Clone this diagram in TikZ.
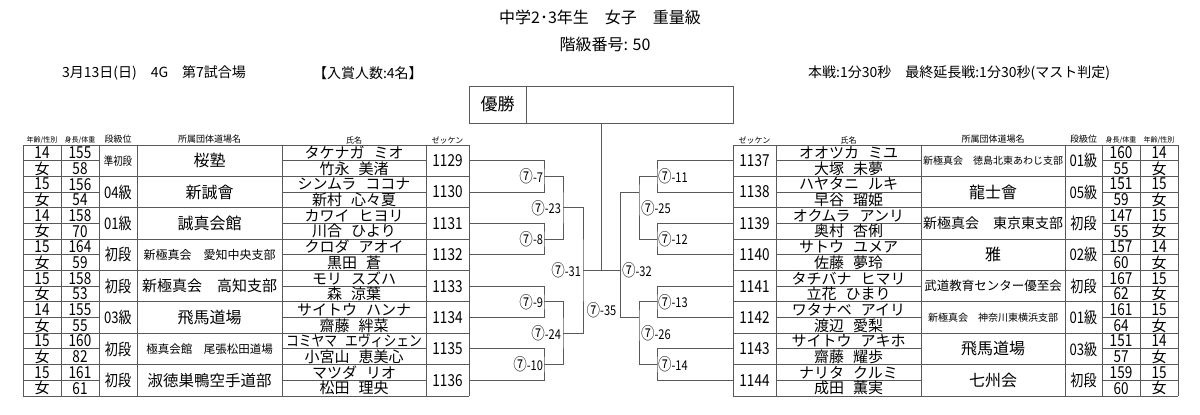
\documentclass[tikz,border=0pt]{standalone}
\usepackage{fontspec}
\usepackage{graphicx}
\setmainfont{Noto Sans CJK JP}
\newfontfamily\narrowf[FakeStretch=0.82]{Noto Sans CJK JP}
\newsavebox\fitbox
\newcommand\fitw[2]{\sbox\fitbox{#2}\ifdim\wd\fitbox>#1\relax\resizebox{#1}{\height}{\usebox\fitbox}\else\usebox\fitbox\fi}
\newcommand\fs[1]{\fontsize{#1}{#1}\selectfont}
\newcommand\nmgap{\hspace{0.6em}}
\newcommand\cseven{{\fontsize{16.5}{16.5}\selectfont\raisebox{-0.5pt}{⑦}}}
\tikzset{
  ln/.style={draw=black!65, line width=0.9pt},
  txt/.style={inner sep=0pt, outer sep=0pt},
  big/.style={txt, font=\fs{15}},
  dig/.style={txt, font=\narrowf\fs{16.5}},
  hdr/.style={txt, font=\fs{8}},
  mlab/.style={txt, font=\narrowf\fs{13.5}},
}
\begin{document}
\begin{tikzpicture}[x=1pt,y=-1pt]
\useasboundingbox (0,0) rectangle (1200,415);
\fill[white] (0,0) rectangle (1200,415);

% titles
\node[txt, font=\fs{16}] (title) at (600,17) {中学2･3年生　女子　重量級};
\node[txt, font=\fs{16}] (cls) at (605,44) {階級番号: 50};
\node[txt, font=\fs{14}, anchor=west] (date) at (62,73) {3月13日(日)　4G　第7試合場};
\node[txt, font=\fs{14}, anchor=west] (prize) at (313,73) {【入賞人数:4名】};
\node[txt, font=\fs{14}, anchor=east] (time) at (1110,73) {本戦:1分30秒　最終延長戦:1分30秒(マスト判定)};

% champion box
\node[ln, minimum width=264pt, minimum height=37pt, inner sep=0pt] (champ) at (601,104.5) {};
\draw[ln] (526,86) -- (526,123);
\node[txt, font=\fs{17}] (yusho) at (497.5,104.5) {優勝};

% headers
\node[txt, font=\fs{7}] (hL1) at (42,140) {年齢/性別};
\node[txt, font=\fs{7}] (hL2) at (80,140) {身長/体重};
\node[hdr, font=\fs{9}] (hL3) at (118,139.5) {段級位};
\node[hdr, font=\fs{9}] (hL4) at (209.5,139.5) {所属団体道場名};
\node[hdr] (hL5) at (354,140) {氏名};
\node[hdr] (hL6) at (447.5,140) {ゼッケン};
\node[hdr] (hR6) at (754.5,140) {ゼッケン};
\node[hdr] (hR5) at (848.5,140) {氏名};
\node[hdr, font=\fs{9}] (hR4) at (993,139.5) {所属団体道場名};
\node[hdr, font=\fs{9}] (hR3) at (1083.5,139.5) {段級位};
\node[txt, font=\fs{7}] (hR2) at (1121,140) {身長/体重};
\node[txt, font=\fs{7}] (hR1) at (1159,140) {年齢/性別};

% table grids
\foreach \x in {23,61,99,137,282,426,469,733,776,921,1065,1102,1140,1178}
  \draw[ln] (\x,145) -- (\x,396);
\foreach \k in {0,...,8}{
  \pgfmathsetmacro\yy{145+31.375*\k}
  \draw[ln] (23,\yy) -- (469,\yy);
  \draw[ln] (733,\yy) -- (1178,\yy);
}
\foreach \k in {0,...,7}{
  \pgfmathsetmacro\yy{145+31.375*\k+15.69}
  \draw[ln] (23,\yy) -- (99,\yy);
  \draw[ln] (282,\yy) -- (426,\yy);
  \draw[ln] (776,\yy) -- (921,\yy);
  \draw[ln] (1102,\yy) -- (1178,\yy);
}

% left players
\foreach \i/\ag/\hh/\ww/\rk/\rs/\ds/\dojo/\kana/\kanji/\num in {
 1/14/155/58/準初段/11.5/16/桜塾/タケナガ\nmgap ミオ/竹永\nmgap 美渚/1129,
 2/15/156/54/04級/16/16/新誠會/シンムラ\nmgap ココナ/新村\nmgap 心々夏/1130,
 3/14/158/70/01級/16/16/誠真会館/カワイ\nmgap ヒヨリ/川合\nmgap ひより/1131,
 4/15/164/59/初段/16/12/新極真会　愛知中央支部/クロダ\nmgap アオイ/黒田\nmgap 蒼/1132,
 5/15/158/53/初段/16/15/新極真会　高知支部/モリ\nmgap スズハ/森\nmgap 涼葉/1133,
 6/14/155/55/03級/16/16/飛馬道場/サイトウ\nmgap ハンナ/齋藤\nmgap 絆菜/1134,
 7/15/160/82/初段/16/11.5/極真会館　尾張松田道場/コミヤマ\nmgap エヴィシェン/小宮山\nmgap 恵美心/1135,
 8/15/161/61/初段/16/15.5/淑徳巣鴨空手道部/マツダ\nmgap リオ/松田\nmgap 理央/1136}{
  \pgfmathsetmacro\yup{145+31.375*(\i-1)+7.84}
  \pgfmathsetmacro\ymd{145+31.375*(\i-1)+15.69}
  \pgfmathsetmacro\ylo{145+31.375*(\i-1)+23.53}
  \node[dig] (LA\i) at (42,\yup) {\ag};
  \node[big] (LS\i) at (42,\ylo) {女};
  \node[dig] (LH\i) at (80,\yup) {\hh};
  \node[dig] (LW\i) at (80,\ylo) {\ww};
  \node[txt, font={\narrowf\fs{\rs}}] (LR\i) at (118,\ymd) {\rk};
  \node[txt, font={\fs{\ds}}] (LD\i) at (209.5,\ymd) {\fitw{140pt}{\dojo}};
  \node[big] (LK\i) at (354,\yup) {\fitw{136pt}{\kana}};
  \node[big] (LN\i) at (354,\ylo) {\fitw{136pt}{\kanji}};
  \node[dig] (LZ\i) at (447.5,\ymd) {\num};
  \coordinate (L\i) at (469,\ymd);
}

% right players
\foreach \i/\ag/\hh/\ww/\rk/\rs/\ds/\dojo/\kana/\kanji/\num in {
 1/14/160/55/01級/16/10/新極真会　徳島北東あわじ支部/オオツカ\nmgap ミユ/大塚\nmgap 未夢/1137,
 2/15/151/59/05級/16/16/龍士會/ハヤタニ\nmgap ルキ/早谷\nmgap 瑠姫/1138,
 3/15/147/55/初段/16/14/新極真会　東京東支部/オクムラ\nmgap アンリ/奥村\nmgap 杏俐/1139,
 4/14/157/60/02級/16/16/雅/サトウ\nmgap ユメア/佐藤\nmgap 夢玲/1140,
 5/15/167/62/初段/16/12.5/武道教育センター優至会/タチバナ\nmgap ヒマリ/立花\nmgap ひまり/1141,
 6/15/161/64/01級/16/10/新極真会　神奈川東横浜支部/ワタナベ\nmgap アイリ/渡辺\nmgap 愛梨/1142,
 7/14/151/57/03級/16/16/飛馬道場/サイトウ\nmgap アキホ/齋藤\nmgap 耀歩/1143,
 8/15/159/60/初段/16/16/七州会/ナリタ\nmgap クルミ/成田\nmgap 薫実/1144}{
  \pgfmathsetmacro\yup{145+31.375*(\i-1)+7.84}
  \pgfmathsetmacro\ymd{145+31.375*(\i-1)+15.69}
  \pgfmathsetmacro\ylo{145+31.375*(\i-1)+23.53}
  \node[dig] (RZ\i) at (754.5,\ymd) {\num};
  \node[big] (RK\i) at (848.5,\yup) {\fitw{136pt}{\kana}};
  \node[big] (RN\i) at (848.5,\ylo) {\fitw{136pt}{\kanji}};
  \node[txt, font={\fs{\ds}}] (RD\i) at (993,\ymd) {\fitw{140pt}{\dojo}};
  \node[txt, font={\narrowf\fs{\rs}}] (RR\i) at (1083.5,\ymd) {\rk};
  \node[dig] (RH\i) at (1121,\yup) {\hh};
  \node[dig] (RW\i) at (1121,\ylo) {\ww};
  \node[dig] (RA\i) at (1159,\yup) {\ag};
  \node[big] (RS\i) at (1159,\ylo) {女};
  \coordinate (R\i) at (733,\ymd);
}

% left bracket
\coordinate (j7) at (544,176.41);
\coordinate (j8) at (544,239.16);
\coordinate (j9) at (544,301.91);
\coordinate (j10) at (544,364.66);
\coordinate (j23) at (563,207.78);
\coordinate (j24) at (563,333.28);
\coordinate (j31) at (583,270.53);
\coordinate (cc) at (601,270.53);
\coordinate (j32) at (620,270.53);
\draw[ln] (L1) -| (j7) |- (L2);
\draw[ln] (L3) -| (j8) |- (L4);
\draw[ln] (L5) -| (j9) |- (L6);
\draw[ln] (L7) -| (j10) |- (L8);
\draw[ln] (j7) -| (j23) |- (j8);
\draw[ln] (j9) -| (j24) |- (j10);
\draw[ln] (j23) -| (j31) |- (j24);
\draw[ln] (j31) -- (cc) -- (j32);
\draw[ln] (cc) -- (champ.south);

% right bracket
\coordinate (k11) at (657,176.41);
\coordinate (k12) at (657,239.16);
\coordinate (k13) at (657,301.91);
\coordinate (k14) at (657,364.66);
\coordinate (a25) at (639,192.1);
\coordinate (a26) at (639,317.6);
\coordinate (b25) at (620,192.1);
\coordinate (b26) at (620,317.6);
\coordinate (l25) at (639,207.78);
\coordinate (l26) at (639,333.28);
\draw[ln] (R1) -| (k11) |- (R2);
\draw[ln] (R3) -| (k12) |- (R4);
\draw[ln] (R5) -| (k13) |- (R6);
\draw[ln] (R7) -| (k14) |- (R8);
\draw[ln] (k11) -| (a25) |- (k12);
\draw[ln] (k13) -| (a26) |- (k14);
\draw[ln] (a25) -- (b25) -- (b26) -- (a26);

% match labels
\node[mlab, anchor=east, xshift=-1pt] (m7) at (j7) {\cseven-7};
\node[mlab, anchor=east, xshift=-1pt] (m8) at (j8) {\cseven-8};
\node[mlab, anchor=east, xshift=-1pt] (m9) at (j9) {\cseven-9};
\node[mlab, anchor=east, xshift=-1pt] (m10) at (j10) {\cseven-10};
\node[mlab, anchor=east, xshift=-2pt] (m23) at (j23) {\cseven-23};
\node[mlab, anchor=east, xshift=-2pt] (m24) at (j24) {\cseven-24};
\node[mlab, anchor=east, xshift=-2pt] (m31) at (j31) {\cseven-31};
\node[mlab, anchor=west, xshift=1pt] (m11) at (k11) {\cseven-11};
\node[mlab, anchor=west, xshift=1pt] (m12) at (k12) {\cseven-12};
\node[mlab, anchor=west, xshift=1pt] (m13) at (k13) {\cseven-13};
\node[mlab, anchor=west, xshift=1pt] (m14) at (k14) {\cseven-14};
\node[mlab, anchor=west, xshift=2pt] (m25) at (l25) {\cseven-25};
\node[mlab, anchor=west, xshift=2pt] (m26) at (l26) {\cseven-26};
\node[mlab, anchor=west, xshift=2pt] (m32) at (j32) {\cseven-32};
\node[mlab] (m35) at (601.5,310) {\cseven-35};
\end{tikzpicture}
\end{document}
